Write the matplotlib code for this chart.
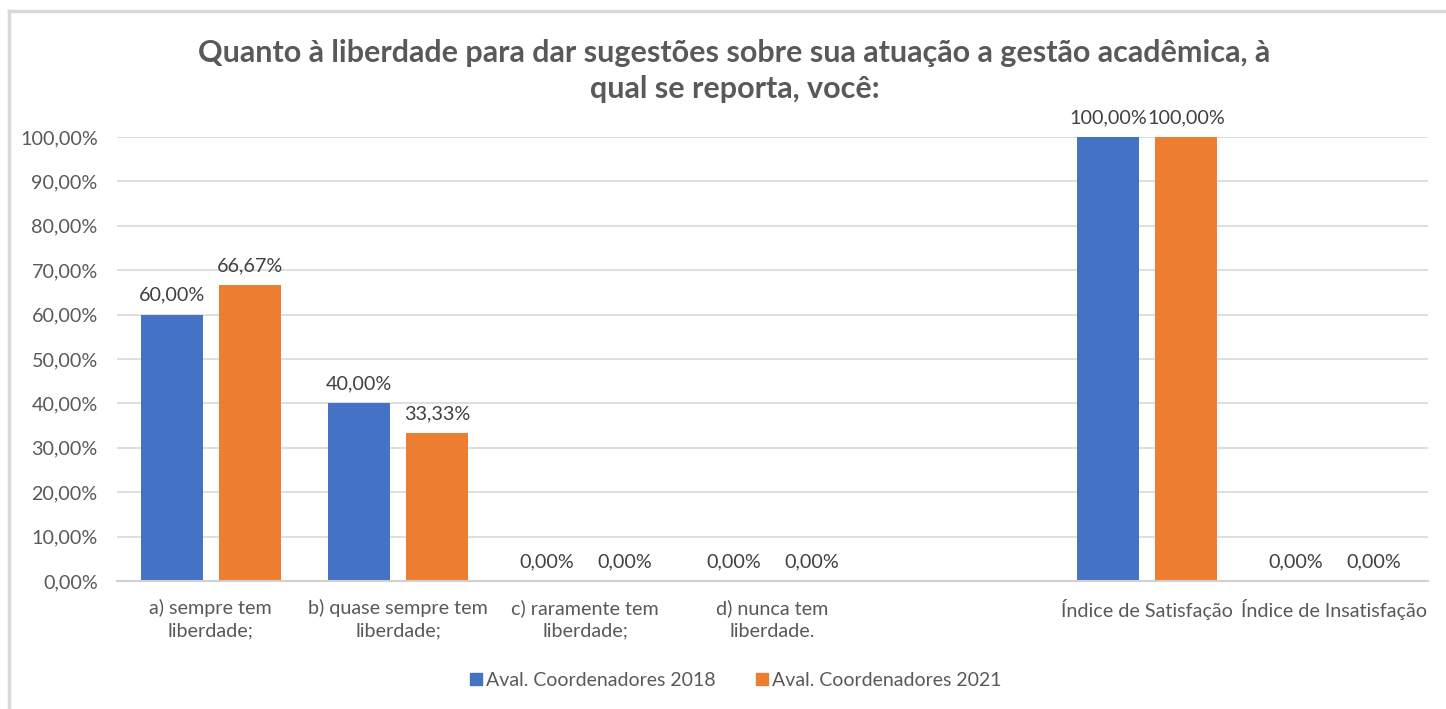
import numpy as np
import matplotlib.pyplot as plt
from matplotlib.lines import Line2D

plt.rcParams['font.family'] = ['Lato', 'DejaVu Sans']

# data
categories = ['a) sempre tem\nliberdade;', 'b) quase sempre tem\nliberdade;',
              'c) raramente tem\nliberdade;', 'd) nunca tem\nliberdade.', '',
              'Índice de Satisfação', 'Índice de Insatisfação']
series_names = ['Aval. Coordenadores 2018', 'Aval. Coordenadores 2021']
aval_2018 = [60.00, 40.00, 0.00, 0.00, None, 100.00, 0.00]
aval_2021 = [66.67, 33.33, 0.00, 0.00, None, 100.00, 0.00]
colors = ['#4472C4', '#ED7D31']

title = ('Quanto à liberdade para dar sugestões sobre sua atuação a gestão acadêmica, à\n'
         'qual se reporta, você:')

fig = plt.figure(figsize=(14.46, 7.09), dpi=100)
ax = fig.add_axes([0.081, 0.1805, 0.9066, 0.6263])

x = np.arange(len(categories))
width = 0.331
offset = 0.208
for vals, off, col in zip([aval_2018, aval_2021], [-offset, offset], colors):
    for xi, v in zip(x, vals):
        if v is None:
            continue
        ax.bar(xi + off, v, width, color=col, zorder=3)
        ax.text(xi + off, v + 2.5, f'{v:.2f}%'.replace('.', ','), ha='center', va='bottom',
                fontsize=14.2, color='#404040')

ax.set_xlim(-0.5, len(categories) - 0.5)
ax.set_ylim(0, 100)
yt = np.arange(0, 101, 10)
ax.set_yticks(yt)
ax.set_yticklabels([f'{v:.2f}%'.replace('.', ',') for v in yt], fontsize=14.2, color='#595959')
ax.set_xticks(x)
ax.set_xticklabels(categories, fontsize=14.2, color='#595959', linespacing=1.4)
ax.tick_params(length=0)
ax.tick_params(axis='y', pad=14)
ax.tick_params(axis='x', pad=13)
ax.yaxis.grid(True, color='#d9d9d9', linewidth=1.2, zorder=0)
for s in ['top', 'right', 'left']:
    ax.spines[s].set_visible(False)
ax.spines['bottom'].set_color('#d0d0d0')
ax.spines['bottom'].set_linewidth(1.5)
ax.spines['bottom'].set_zorder(4)

fig.text(0.508, 0.9, title, ha='center', va='center', fontsize=22, fontweight='bold',
         color='#595959', linespacing=1.35)

handles = [Line2D([0], [0], marker='s', linestyle='', markersize=9, markerfacecolor=c,
                  markeredgecolor=c) for c in colors]
fig.legend(handles, series_names, loc='center', bbox_to_anchor=(0.508, 0.04), ncol=2,
           frameon=False, fontsize=14, labelcolor='#595959', handletextpad=0.1,
           columnspacing=2.0, handlelength=0.8)

# chart border
fig.add_artist(Line2D([0.0062, 0.0062], [0, 0.985], color='#d9d9d9', linewidth=2.5,
                      transform=fig.transFigure))
fig.add_artist(Line2D([0.0062, 1], [0.985, 0.985], color='#d9d9d9', linewidth=2.5,
                      transform=fig.transFigure))

fig.savefig('out.png', dpi=100)
